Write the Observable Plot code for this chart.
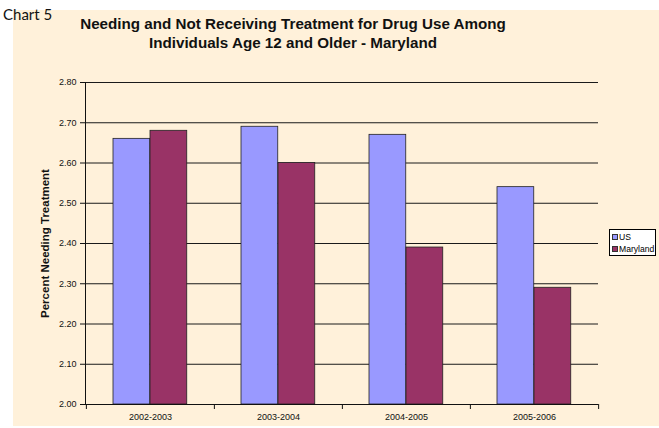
<!DOCTYPE html>
<html>
<head>
<meta charset="utf-8">
<script src="https://cdn.jsdelivr.net/npm/d3@7"></script>
<script src="https://cdn.jsdelivr.net/npm/@observablehq/plot@0.6"></script>
<style>
  html, body { margin: 0; padding: 0; background: #fff; }
  #wrap { position: relative; width: 659px; height: 428px; overflow: hidden; font-family: "Liberation Sans", Arial, sans-serif; }
  #bg { position: absolute; left: 13px; top: 10px; width: 646px; height: 416px; background: #FFF1DA; }
  #chartno { position: absolute; left: 3px; top: 5px; font-family: Lato, "Open Sans", sans-serif; font-size: 15px; color: #111; }
  #title { position: absolute; left: 43px; top: 14px; width: 500px; text-align: center; font-weight: bold; font-size: 15.2px; line-height: 19px; color: #111; }
  #plot { position: absolute; left: 0; top: 60px; }
  #legend { position: absolute; left: 609px; top: 229px; width: 47px; height: 27px; background: #fff; border: 1px solid #000; font-size: 8.6px; box-sizing: border-box; padding: 1px 0 0 2px; }
  #legend div { display: flex; align-items: center; height: 12px; }
  #legend span.sw { display: inline-block; width: 4px; height: 4px; border: 1px solid #333; margin-right: 1px; }
</style>
</head>
<body>
<div id="wrap">
  <div id="bg"></div>
  <div id="chartno">Chart 5</div>
  <div id="title">Needing and Not Receiving Treatment for Drug Use Among<br>Individuals Age 12 and Older - Maryland</div>
  <div id="plot"></div>
  <div id="legend"></div>
</div>
<script>
const periods = ["2002-2003", "2003-2004", "2004-2005", "2005-2006"];
const usValues = [2.66, 2.69, 2.67, 2.54];
const marylandValues = [2.68, 2.60, 2.39, 2.29];
const seriesNames = ["US", "Maryland"];
const seriesColors = ["#9999FF", "#993366"];
const yTicks = [2.0, 2.1, 2.2, 2.3, 2.4, 2.5, 2.6, 2.7, 2.8];
const yMin = 2.0, yMax = 2.8;

const usData = periods.map((p, i) => ({period: p, value: usValues[i]}));
const mdData = periods.map((p, i) => ({period: p, value: marylandValues[i]}));

const W = 659, H = 368, ML = 85, MR = 61;
const bw = (W - ML - MR) / periods.length;

const chart = Plot.plot({
  width: W,
  height: H,
  marginLeft: ML,
  marginRight: MR,
  marginTop: 22,
  marginBottom: 24,
  style: {background: "transparent", fontFamily: "'Liberation Sans', Arial, sans-serif", fontSize: "9px", color: "#111"},
  x: {domain: periods, padding: 0, label: null},
  y: {domain: [yMin, yMax], label: null},
  marks: [
    Plot.gridY(yTicks, {stroke: "#1a1a1a", strokeOpacity: 1, strokeWidth: 1}),
    Plot.barY(usData, {x: "period", y1: () => yMin, y2: "value", fill: seriesColors[0], stroke: "#222", strokeWidth: 0.8, insetLeft: 27, insetRight: bw - 64}),
    Plot.barY(mdData, {x: "period", y1: () => yMin, y2: "value", fill: seriesColors[1], stroke: "#222", strokeWidth: 0.8, insetLeft: 64, insetRight: bw - 101}),
    Plot.frame({anchor: "left", stroke: "#111"}),
    Plot.ruleY([yMin], {stroke: "#111"}),
    Plot.axisY(yTicks, {tickSize: 5, tickPadding: 4, tickFormat: d3.format(".2f"), fontSize: 9, label: null, stroke: "#111"}),
    Plot.axisX({tickSize: 0, tickPadding: 9, fontSize: 9, label: null}),
    Plot.axisX(periods, {tickSize: 5, fill: "none", dx: -bw / 2, label: null, stroke: "#111"}),
    Plot.axisX([periods[periods.length - 1]], {tickSize: 5, fill: "none", dx: bw / 2, label: null, stroke: "#111"}),
    Plot.text(["Percent Needing Treatment"], {frameAnchor: "left", dx: -40, rotate: -90, textAnchor: "middle", fontWeight: "bold", fontSize: 11.5, fill: "#111"})
  ]
});
document.getElementById("plot").appendChild(chart);

const legend = document.getElementById("legend");
seriesNames.forEach((n, i) => {
  const row = document.createElement("div");
  row.innerHTML = `<span class="sw" style="background:${seriesColors[i]}"></span>${n}`;
  legend.appendChild(row);
});
</script>
</body>
</html>
